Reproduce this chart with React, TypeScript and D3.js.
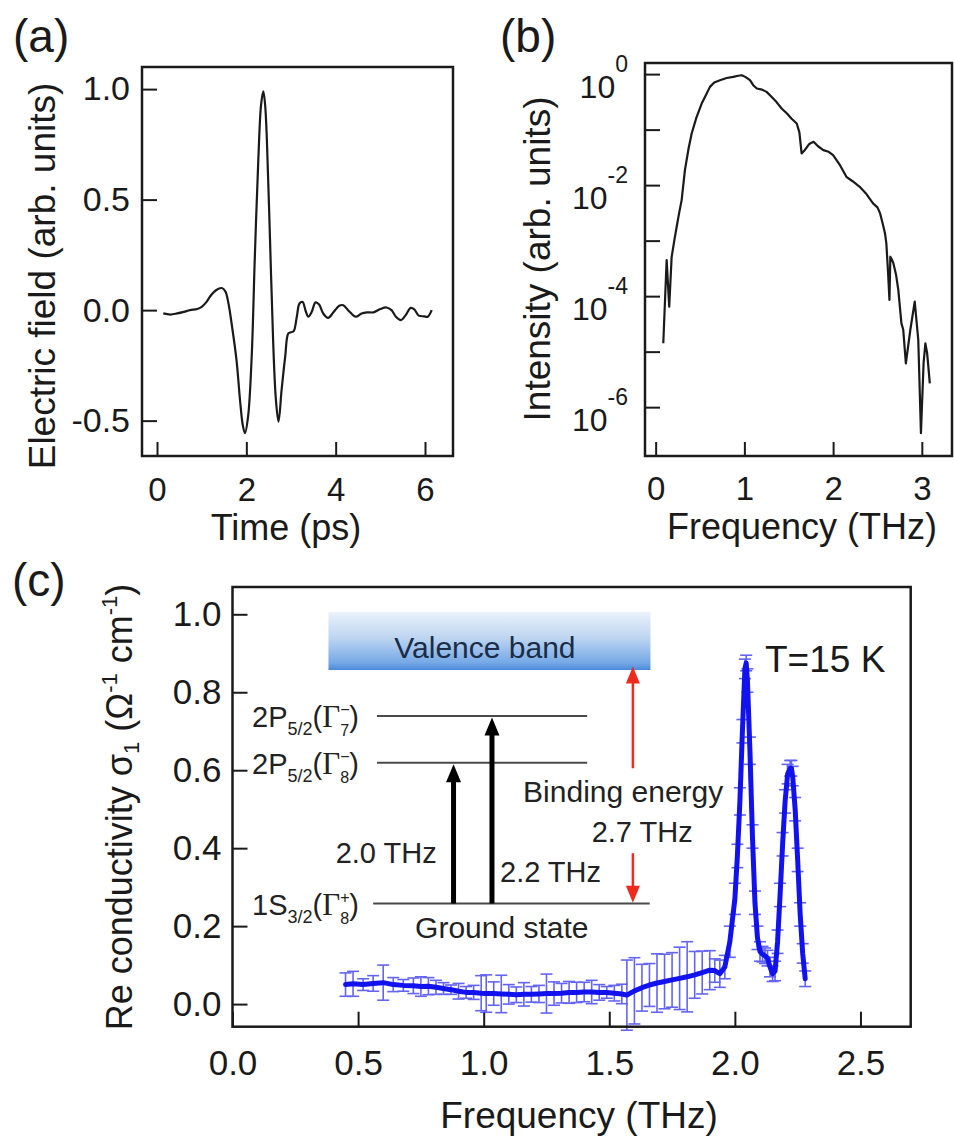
import React, { useRef, useEffect } from 'react'
import * as d3 from 'd3'

const FONT = "'Liberation Sans', Arial, Helvetica, sans-serif"
const INK = '#1a1a1a'

// (a) THz pulse, time domain
const timePs = [0.14, 0.30, 0.45, 0.60, 0.74, 0.90, 1.00, 1.10, 1.20, 1.32, 1.45, 1.53, 1.60, 1.67, 1.78, 1.86, 1.92, 1.97,
  2.04, 2.12, 2.19, 2.27, 2.33, 2.38, 2.42, 2.46, 2.53, 2.60, 2.66, 2.72, 2.79, 2.87, 2.94, 3.00, 3.06, 3.13, 3.19, 3.26,
  3.33, 3.39, 3.46, 3.55, 3.63, 3.72, 3.83, 3.95, 4.08, 4.17, 4.30, 4.45, 4.58, 4.70, 4.85, 5.00, 5.14, 5.25, 5.35, 5.46,
  5.56, 5.68, 5.76, 5.86, 5.98, 6.06, 6.15]
const fieldArb = [-0.015, -0.02, -0.015, -0.008, 0.0, 0.005, 0.015, 0.035, 0.065, 0.09, 0.10, 0.085, 0.03, -0.06, -0.226, -0.41, -0.52, -0.557,
  -0.48, -0.21, 0.24, 0.69, 0.93, 0.99, 0.93, 0.77, 0.32, -0.14, -0.40, -0.505, -0.36, -0.21, -0.105, -0.10, -0.095, -0.03, 0.03, 0.037,
  -0.005, -0.03, -0.01, 0.035, 0.025, -0.015, -0.035, -0.01, 0.02, 0.022, -0.005, -0.03, -0.015, -0.01, -0.01, 0.005, 0.012, 0.0, -0.03, -0.045,
  -0.025, 0.01, 0.003, -0.025, -0.028, -0.03, 0.0]
const aXTicks = [0, 2, 4, 6]
const aYTicks = [-0.5, 0, 0.5, 1.0]

// (b) spectrum, log10 of intensity
const freqB = [0.086, 0.124, 0.153, 0.18, 0.21, 0.237, 0.265, 0.293, 0.33, 0.37, 0.406, 0.46, 0.519, 0.56, 0.612, 0.66, 0.725, 0.80,
  0.875, 0.93, 0.97, 1.01, 1.063, 1.10, 1.14, 1.20, 1.25, 1.30, 1.36, 1.42, 1.48, 1.53, 1.59, 1.62, 1.645, 1.68, 1.73, 1.78, 1.83,
  1.89, 1.95, 2.00, 2.07, 2.15, 2.22, 2.30, 2.37, 2.45, 2.50, 2.53, 2.56, 2.585, 2.60, 2.62, 2.635, 2.645, 2.665, 2.68, 2.71, 2.735,
  2.77, 2.79, 2.82, 2.87, 2.92, 2.96, 2.99, 3.02, 3.04, 3.06, 3.09]
const intensityExp = [-4.85, -3.35, -4.19, -3.3, -3.0, -2.75, -2.5, -2.27, -1.73, -1.35, -1.07, -0.78, -0.53, -0.40, -0.23, -0.15, -0.11, -0.07,
  -0.05, -0.03, -0.02, -0.05, -0.11, -0.20, -0.26, -0.28, -0.32, -0.40, -0.50, -0.62, -0.71, -0.80, -0.89, -1.05, -1.43, -1.37, -1.26, -1.22, -1.30,
  -1.37, -1.40, -1.46, -1.62, -1.85, -1.93, -2.03, -2.15, -2.33, -2.40, -2.51, -2.70, -2.87, -3.05, -3.59, -4.07, -3.29, -3.35, -3.41, -3.62, -3.89,
  -4.49, -4.60, -5.21, -4.61, -4.10, -4.79, -6.47, -5.2, -4.85, -5.03, -5.57]
const bXTicks = [0, 1, 2, 3]
const bYTickExp = [0, -1, -2, -3, -4, -5, -6]
const bYLabelExp = [0, -2, -4, -6]

// (c) real part of conductivity
const freqC = [0.45, 0.48, 0.52, 0.56, 0.60, 0.64, 0.68, 0.72, 0.75, 0.78, 0.81, 0.84, 0.87, 0.90, 0.93, 0.96, 0.99, 1.01, 1.04,
  1.07, 1.10, 1.13, 1.16, 1.19, 1.22, 1.25, 1.28, 1.31, 1.34, 1.37, 1.40, 1.43, 1.46, 1.49, 1.52, 1.55, 1.57, 1.60, 1.63, 1.66,
  1.69, 1.72, 1.75, 1.78, 1.81, 1.84, 1.87, 1.90, 1.92, 1.94, 1.96, 1.98, 2.00, 2.01, 2.02, 2.03, 2.04, 2.045, 2.05, 2.06, 2.07,
  2.08, 2.09, 2.10, 2.11, 2.12, 2.13, 2.14, 2.15, 2.16, 2.17, 2.18, 2.19, 2.20, 2.21, 2.22, 2.225, 2.23, 2.24, 2.25, 2.26, 2.27, 2.28]
const sigmaC = [0.050, 0.052, 0.050, 0.053, 0.055, 0.050, 0.048, 0.047, 0.045, 0.046, 0.043, 0.040, 0.037, 0.033, 0.030, 0.030, 0.028, 0.027, 0.027,
  0.026, 0.025, 0.024, 0.025, 0.025, 0.026, 0.027, 0.027, 0.028, 0.030, 0.030, 0.031, 0.031, 0.030, 0.030, 0.028, 0.026, 0.023, 0.034, 0.042, 0.049,
  0.054, 0.058, 0.062, 0.066, 0.070, 0.075, 0.081, 0.087, 0.086, 0.078, 0.095, 0.160, 0.270, 0.380, 0.520, 0.700, 0.860, 0.875, 0.830, 0.650, 0.430,
  0.260, 0.170, 0.135, 0.128, 0.124, 0.118, 0.095, 0.078, 0.085, 0.160, 0.280, 0.410, 0.520, 0.590, 0.605, 0.605, 0.585, 0.500, 0.370, 0.230, 0.130, 0.065]
const sigmaErr = [0.030, 0.032, 0.015, 0.020, 0.045, 0.018, 0.015, 0.020, 0.025, 0.022, 0.018, 0.015, 0.012, 0.020, 0.015, 0.018, 0.045, 0.048, 0.030,
  0.048, 0.025, 0.020, 0.030, 0.020, 0.022, 0.050, 0.030, 0.025, 0.028, 0.026, 0.025, 0.030, 0.020, 0.015, 0.020, 0.025, 0.090, 0.085, 0.060, 0.055,
  0.075, 0.070, 0.070, 0.080, 0.090, 0.060, 0.055, 0.050, 0.030, 0.035, 0.030, 0.040, 0.040, 0.030, 0.035, 0.030, 0.025, 0.020, 0.030, 0.035, 0.030,
  0.030, 0.030, 0.025, 0.020, 0.020, 0.020, 0.025, 0.020, 0.025, 0.030, 0.030, 0.030, 0.030, 0.025, 0.020, 0.020, 0.025, 0.030, 0.030, 0.030, 0.025, 0.020]
const cXTicks = [0, 0.5, 1.0, 1.5, 2.0, 2.5]
const cYTicks = [0, 0.2, 0.4, 0.6, 0.8, 1.0]

// energy level sketch drawn in (c), in the axes' units
const levelName = ['2P', '2P', '1S']
const levelSub = ['5/2', '5/2', '3/2']
const levelSup = ['\u2212', '\u2212', '+']
const levelGamma = ['7', '8', '8']
const levelValue = [0.739, 0.619, 0.258]
const levelStart = [0.575, 0.575, 0.56]
const levelEnd = [1.412, 1.412, 1.661]

export default function App() {
  const visEl = useRef<SVGSVGElement>(null)

  useEffect(() => {
    document.body.style.margin = '0'
    const svg = d3.select(visEl.current)
    svg.selectAll('*').remove()
    svg.attr('font-family', FONT)

    const styleAxis = (g: any, size: number) => {
      g.attr('font-family', FONT).attr('font-size', size)
      g.select('.domain').remove()
      g.selectAll('.tick line').attr('stroke', INK).attr('stroke-width', 2)
      g.selectAll('.tick text').attr('fill', INK)
    }

    const frame = (x: any, y: any) => svg.append('rect')
      .attr('x', x.range()[0]).attr('y', y.range()[1])
      .attr('width', x.range()[1] - x.range()[0])
      .attr('height', y.range()[0] - y.range()[1])
      .attr('fill', 'none').attr('stroke', INK).attr('stroke-width', 2.5)

    const text = (s: string, x: number, y: number, size: number, anchor = 'start', fill = INK) =>
      svg.append('text').attr('x', x).attr('y', y).attr('font-size', size)
        .attr('text-anchor', anchor).attr('fill', fill).text(s)

    const fmt1 = (d: any) => (+d).toFixed(1)

    // ---------------- (a)
    const xA = d3.scaleLinear().domain([-0.336, 6.627]).range([142, 453])
    const yA = d3.scaleLinear().domain([-0.66, 1.1]).range([456, 67])

    svg.append('g').attr('transform', 'translate(0,456)')
      .call(d3.axisBottom(xA).tickValues(aXTicks).tickSize(-14).tickPadding(22).tickFormat(d3.format('d')) as any)
      .call((g: any) => styleAxis(g, 33))
    svg.append('g').attr('transform', 'translate(142,0)')
      .call(d3.axisLeft(yA).tickValues(aYTicks).tickSize(-15).tickPadding(12).tickFormat(fmt1) as any)
      .call((g: any) => styleAxis(g, 34))

    const lineA = d3.line<number>()
      .x((d, i) => xA(timePs[i]))
      .y(d => yA(d))
      .curve(d3.curveCatmullRom.alpha(0.5))
    svg.append('path').attr('d', lineA(fieldArb)).attr('fill', 'none')
      .attr('stroke', INK).attr('stroke-width', 2.2).attr('stroke-linejoin', 'round')
    frame(xA, yA)

    text('(a)', 13, 52, 46)
    text('Time (ps)', 286, 540, 36, 'middle')
    svg.append('text').attr('transform', 'translate(55,276) rotate(-90)')
      .attr('text-anchor', 'middle').attr('font-size', 37).attr('fill', INK)
      .text('Electric field (arb. units)')

    // ---------------- (b)
    const xB = d3.scaleLinear().domain([-0.12, 3.34]).range([645, 952])
    const yB = d3.scaleLog().domain([Math.pow(10, -6.88), Math.pow(10, 0.2)]).range([456, 63])

    svg.append('g').attr('transform', 'translate(0,456)')
      .call(d3.axisBottom(xB).tickValues(bXTicks).tickSize(-14).tickPadding(21).tickFormat(d3.format('d')) as any)
      .call((g: any) => styleAxis(g, 33))
    svg.append('g').attr('transform', 'translate(645,0)')
      .call(d3.axisLeft(yB).tickValues(bYTickExp.map(e => Math.pow(10, e))).tickSize(-15).tickFormat(() => '') as any)
      .call((g: any) => styleAxis(g, 32))

    bYLabelExp.forEach(e => {
      const t = svg.append('text').attr('x', 628).attr('y', yB(Math.pow(10, e)) + 24)
        .attr('text-anchor', 'end').attr('font-size', 32).attr('fill', INK)
      t.append('tspan').text('10')
      t.append('tspan').attr('dy', -26).attr('font-size', 23).text(String(e))
    })

    const lineB = d3.line<number>()
      .x((d, i) => xB(freqB[i]))
      .y(d => yB(Math.pow(10, d)))
    svg.append('path').attr('d', lineB(intensityExp)).attr('fill', 'none')
      .attr('stroke', INK).attr('stroke-width', 2.2).attr('stroke-linejoin', 'round')
    frame(xB, yB)

    text('(b)', 500, 52, 46)
    text('Frequency (THz)', 802, 539, 36, 'middle')
    svg.append('text').attr('transform', 'translate(550,259) rotate(-90)')
      .attr('text-anchor', 'middle').attr('font-size', 37).attr('fill', INK)
      .text('Intensity (arb. units)')

    // ---------------- (c)
    const xC = d3.scaleLinear().domain([0, 2.7]).range([232.5, 910.7])
    const yC = d3.scaleLinear().domain([-0.058, 1.07]).range([1026.7, 587])

    svg.append('g').attr('transform', 'translate(0,1026.7)')
      .call(d3.axisBottom(xC).tickValues(cXTicks).tickSize(-15).tickPadding(23.5).tickFormat(fmt1) as any)
      .call((g: any) => styleAxis(g, 35))
    svg.append('g').attr('transform', 'translate(232.5,0)')
      .call(d3.axisLeft(yC).tickValues(cYTicks).tickSize(-15).tickPadding(11).tickFormat(fmt1) as any)
      .call((g: any) => styleAxis(g, 35))

    // valence band box
    const defs = svg.append('defs')
    const grad = defs.append('linearGradient').attr('id', 'vb').attr('x1', 0).attr('y1', 0).attr('x2', 0).attr('y2', 1)
    grad.append('stop').attr('offset', 0).attr('stop-color', '#eaf2fb')
    grad.append('stop').attr('offset', 0.45).attr('stop-color', '#bdd5f1')
    grad.append('stop').attr('offset', 0.88).attr('stop-color', '#74a8e6')
    grad.append('stop').attr('offset', 1).attr('stop-color', '#4a89d8')
    svg.append('rect')
      .attr('x', xC(0.382)).attr('y', yC(1.006))
      .attr('width', xC(1.664) - xC(0.382)).attr('height', yC(0.857) - yC(1.006))
      .attr('fill', 'url(#vb)')
    text('Valence band', xC(1.005), yC(0.888), 30, 'middle', '#1c2c46')

    // levels
    levelValue.forEach((v, i) => {
      svg.append('line')
        .attr('x1', xC(levelStart[i])).attr('x2', xC(levelEnd[i]))
        .attr('y1', yC(v)).attr('y2', yC(v))
        .attr('stroke', '#4a4a4a').attr('stroke-width', 2)
      const t = svg.append('text').attr('x', xC(0.078)).attr('y', yC(v) + 11)
        .attr('font-size', 29).attr('fill', '#222')
      t.append('tspan').text(levelName[i])
      t.append('tspan').attr('font-size', 18).attr('dy', 8).text(levelSub[i])
      t.append('tspan').attr('dy', -8).text('(')
      t.append('tspan').attr('font-family', "'Liberation Serif', serif").attr('font-size', 31).text('\u0393')
      t.append('tspan').attr('font-size', 16).attr('dy', -12).text(levelSup[i])
      t.append('tspan').attr('font-size', 16).attr('dx', -9.3).attr('dy', 21).text(levelGamma[i])
      t.append('tspan').attr('dy', -9).text(')')
    })

    const arrow = (xv: number, from: number, to: number, color: string, w: number, hw: number, hl: number) => {
      const x = xC(xv), y0 = yC(from), y1 = yC(to)
      const dir = y1 < y0 ? 1 : -1
      svg.append('line').attr('x1', x).attr('x2', x).attr('y1', y0).attr('y2', y1 + dir * hl * 0.7)
        .attr('stroke', color).attr('stroke-width', w)
      svg.append('path')
        .attr('d', `M${x},${y1} L${x - hw / 2},${y1 + dir * hl} L${x + hw / 2},${y1 + dir * hl} Z`)
        .attr('fill', color)
    }
    arrow(0.88, 0.258, 0.615, '#000', 5, 15, 18)
    arrow(1.033, 0.258, 0.735, '#000', 5, 15, 18)
    arrow(1.594, 0.605, 0.866, '#ee2a1c', 2.5, 14, 17)
    arrow(1.594, 0.387, 0.260, '#ee2a1c', 2.5, 14, 17)

    text('2.0 THz', xC(0.813), yC(0.361), 29, 'end', '#222')
    text('2.2 THz', xC(1.065), yC(0.314), 29, 'start', '#222')
    text('Binding energy', xC(1.157), yC(0.519), 30, 'start', '#222')
    text('2.7 THz', xC(1.43), yC(0.417), 29, 'start', '#222')
    text('Ground state', xC(0.727), yC(0.169), 30, 'start', '#222')
    text('T=15 K', xC(2.12), yC(0.853), 37, 'start', INK)

    // error bars then data line
    const cap = 6
    const bars = svg.append('g').attr('stroke', '#4a4af2').attr('stroke-width', 1.6).attr('opacity', 0.85)
    freqC.forEach((f, i) => {
      const x = xC(f), lo = yC(sigmaC[i] - sigmaErr[i]), hi = yC(sigmaC[i] + sigmaErr[i])
      bars.append('line').attr('x1', x).attr('x2', x).attr('y1', lo).attr('y2', hi)
      bars.append('line').attr('x1', x - cap).attr('x2', x + cap).attr('y1', lo).attr('y2', lo)
      bars.append('line').attr('x1', x - cap).attr('x2', x + cap).attr('y1', hi).attr('y2', hi)
    })
    const lineC = d3.line<number>()
      .x((d, i) => xC(freqC[i]))
      .y(d => yC(d))
    svg.append('path').attr('d', lineC(sigmaC)).attr('fill', 'none')
      .attr('stroke', '#1212ee').attr('stroke-width', 5)
      .attr('stroke-linejoin', 'round').attr('stroke-linecap', 'round')
    frame(xC, yC)

    text('(c)', 12, 596, 46)
    text('Frequency (THz)', 579, 1128, 37, 'middle')
    const yl = svg.append('text').attr('transform', 'translate(132,807) rotate(-90)')
      .attr('text-anchor', 'middle').attr('font-size', 36).attr('fill', INK)
    yl.append('tspan').text('Re conductivity \u03c3')
    yl.append('tspan').attr('font-size', 22).attr('dy', 7).text('1')
    yl.append('tspan').attr('dy', -7).text(' (\u03a9')
    yl.append('tspan').attr('font-size', 22).attr('dy', -15).text('-1')
    yl.append('tspan').attr('dy', 15).text(' cm')
    yl.append('tspan').attr('font-size', 22).attr('dy', -15).text('-1')
    yl.append('tspan').attr('dy', 15).text(')')
  }, [])

  return (
    <div>
      <svg ref={visEl} width={954} height={1139} style={{ display: 'block', background: '#fff' }} />
    </div>
  )
}
